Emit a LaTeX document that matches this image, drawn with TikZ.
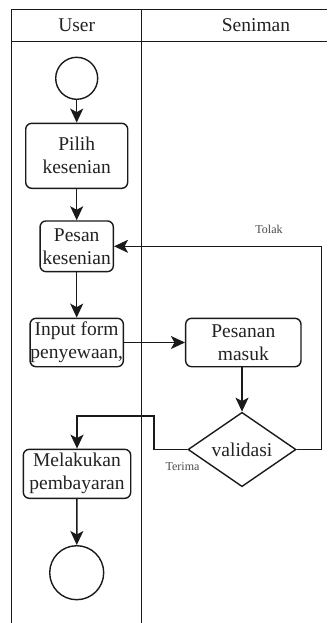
\documentclass[tikz,border=0pt]{standalone}
\usepackage{fontspec}
\setmainfont{Liberation Serif}
\usetikzlibrary{shapes.geometric,arrows.meta}

\definecolor{ink}{HTML}{1A1A1A}
\definecolor{txt}{HTML}{222222}
\definecolor{lbl}{HTML}{4A4A4A}

\tikzset{
  lane/.style={draw=ink, line width=1.4pt},
  act/.style={draw=ink, line width=1.4pt, rounded corners=6pt, align=center,
    inner sep=0pt, text=txt, font=\fontsize{19.5}{23}\selectfont},
  terminal/.style={draw=ink, line width=1.4pt, circle, inner sep=0pt},
  decision/.style={draw=ink, line width=1.4pt, diamond, inner sep=0pt,
    text=txt, font=\fontsize{19.5}{23}\selectfont},
  flow/.style={draw=ink, line width=1.4pt,
    -{Stealth[length=14pt,width=13pt,inset=3.5pt]}},
  guard/.style={text=lbl, font=\fontsize{12}{14}\selectfont, inner sep=0pt},
  head/.style={text=txt, font=\fontsize{19.5}{23}\selectfont, inner sep=0pt}
}

\begin{document}
\begin{tikzpicture}[x=1pt,y=-1pt]
  \useasboundingbox (0,0) rectangle (327,623);

  % swimlanes
  \draw[lane] (327,9.3) -- (11.7,9.3) -- (11.7,623);
  \draw[lane] (11.7,41.7) -- (327,41.7);
  \draw[lane] (141.7,9.3) -- (141.7,623);
  \node[head] (huser) at (76.7,25.5) {User};
  \node[head] (hseniman) at (256,25.5) {Seniman};

  % activities
  \node[terminal, minimum size=42pt] (start) at (76.7,78.3) {};
  \node[act, minimum width=102pt, minimum height=65pt] (pilih) at (76.7,155.8) {Pilih\\kesenian};
  \node[act, minimum width=73.3pt, minimum height=50.7pt] (pesan) at (76.7,246.3) {Pesan\\kesenian};
  \node[act, minimum width=93.3pt, minimum height=48.4pt] (input) at (76.7,342.5) {Input form\\penyewaan,};
  \node[act, minimum width=115.3pt, minimum height=48.4pt] (masuk) at (243.3,342.5) {Pesanan\\masuk};
  \node[decision, minimum width=108pt, minimum height=61pt] (valid) at (242,449.5) {validasi};
  \node[act, minimum width=107.4pt, minimum height=49pt] (bayar) at (77,473.8) {Melakukan\\pembayaran};
  \node[terminal, minimum size=54pt] (end) at (76.7,572.7) {};

  % routing points
  \coordinate (tA) at (154,449.5);
  \coordinate (tB) at (154,416);
  \coordinate (tC) at (77,416);
  \coordinate (rA) at (321.7,449.5);
  \coordinate (rB) at (321.7,246.3);

  % flows
  \draw[flow] (start) -- (pilih);
  \draw[flow] (pilih) -- (pesan);
  \draw[flow] (pesan) -- (input);
  \draw[flow] (input) -- (masuk);
  \draw[flow] (masuk.south -| valid.north) -- (valid.north);
  \draw[flow] (valid.west) -- (tA) -- (tB) -- (tC) -- (bayar.north);
  \draw[flow] (valid.east) -- (rA) -- (rB) -- (pesan.east);
  \draw[flow] (bayar) -- (end);

  % guards
  \node[guard] (tolak) at (269,229) {Tolak};
  \node[guard] (terima) at (182.5,467) {Terima};
\end{tikzpicture}
\end{document}
